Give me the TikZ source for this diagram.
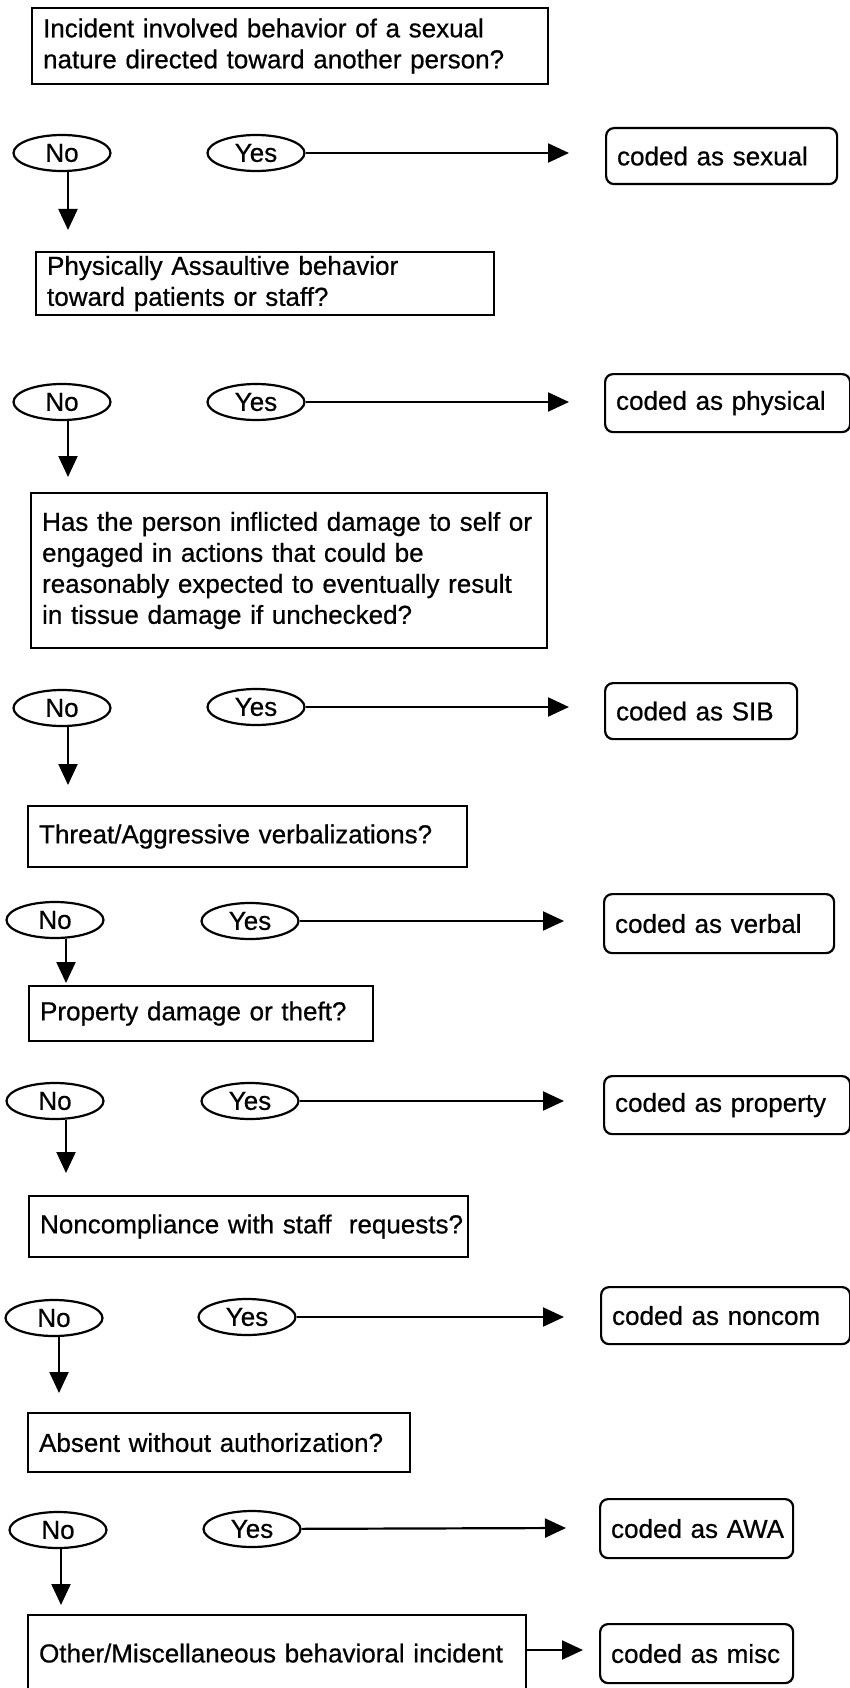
\documentclass[tikz,border=0pt]{standalone}
\usepackage{fontspec}
\setmainfont{Liberation Sans}[FakeBold=0.6]
\usetikzlibrary{shapes.geometric,arrows.meta}
\newcommand{\bodyfs}{\fontsize{26pt}{31pt}\selectfont}
\tikzset{
  qbox/.style={draw, line width=2.2pt, anchor=north west, align=left,
    inner xsep=11pt, inner ysep=0pt, font=\bodyfs},
  rbox/.style={draw, rounded corners=8pt, line width=2.2pt, anchor=north west,
    align=left, inner xsep=11pt, inner ysep=0pt, font=\bodyfs},
  yn/.style={draw, ellipse, line width=2.2pt, minimum width=97pt,
    minimum height=36pt, inner sep=0pt, font=\bodyfs},
  arr/.style={line width=2.2pt, -{Triangle[length=21pt,width=19pt]}}
}
\begin{document}
\begin{tikzpicture}[x={(1pt,0)}, y={(0,-1pt)}]
\useasboundingbox (0,0) rectangle (850,1688);

% ---------- Row 1
\node[qbox, minimum width=516pt, minimum height=76pt, text width=494pt] (q1) at (31,7)
  {\mbox{Incident involved behavior of a sexual}\\\mbox{nature directed toward another person?}};
\node[yn] (no1) at (62,153) {No};
\node[yn] (yes1) at (256,153) {Yes};
\node[rbox, minimum width=231pt, minimum height=56pt, text width=209pt] (r1) at (605,127) {\mbox{coded as sexual}};
\coordinate (y1) at (569,153);
\draw[arr] (yes1) -- (y1);
\coordinate (d1) at (68,230);
\draw[arr] (no1.south -| d1) -- (d1);

% ---------- Row 2
\node[qbox, minimum width=458pt, minimum height=63pt, text width=436pt] (q2) at (35,251)
  {\mbox{Physically Assaultive behavior}\\\mbox{toward patients or staff?}};
\node[yn] (no2) at (62,402) {No};
\node[yn] (yes2) at (256,402) {Yes};
\node[rbox, minimum width=245pt, minimum height=58pt, text width=223pt] (r2) at (604,373) {\mbox{coded as physical}};
\coordinate (y2) at (569,402);
\draw[arr] (yes2) -- (y2);
\coordinate (d2) at (68,477);
\draw[arr] (no2.south -| d2) -- (d2);

% ---------- Row 3
\node[qbox, minimum width=516pt, minimum height=155pt, text width=494pt] (q3) at (30,492)
  {\mbox{Has the person inflicted damage to self or}\\\mbox{engaged in actions that could be}\\\mbox{reasonably expected to eventually result}\\\mbox{in tissue damage if unchecked?}};
\node[yn] (no3) at (62,708) {No};
\node[yn] (yes3) at (256,707) {Yes};
\node[rbox, minimum width=192pt, minimum height=56pt, text width=170pt] (r3) at (604,682) {\mbox{coded as SIB}};
\coordinate (y3) at (569,707);
\draw[arr] (yes3) -- (y3);
\coordinate (d3) at (68,785);
\draw[arr] (no3.south -| d3) -- (d3);

% ---------- Row 4
\node[qbox, minimum width=439pt, minimum height=61pt, text width=417pt] (q4) at (27,805)
  {\mbox{Threat/Aggressive verbalizations?}};
\node[yn] (no4) at (55,920) {No};
\node[yn] (yes4) at (250,921) {Yes};
\node[rbox, minimum width=230pt, minimum height=59pt, text width=208pt] (r4) at (603,893) {\mbox{coded as verbal}};
\coordinate (y4) at (564,921);
\draw[arr] (yes4) -- (y4);
\coordinate (d4) at (66,983);
\draw[arr] (no4.south -| d4) -- (d4);

% ---------- Row 5
\node[qbox, minimum width=344pt, minimum height=55pt, text width=322pt] (q5) at (28,985)
  {\mbox{Property damage or theft?}};
\node[yn] (no5) at (55,1101) {No};
\node[yn] (yes5) at (250,1101) {Yes};
\node[rbox, minimum width=246pt, minimum height=58pt, text width=224pt] (r5) at (603,1075) {\mbox{coded as property}};
\coordinate (y5) at (564,1101);
\draw[arr] (yes5) -- (y5);
\coordinate (d5) at (66,1173);
\draw[arr] (no5.south -| d5) -- (d5);

% ---------- Row 6
\node[qbox, minimum width=439pt, minimum height=61pt, text width=417pt] (q6) at (28,1195)
  {\mbox{Noncompliance with staff~ requests?}};
\node[yn] (no6) at (54,1318) {No};
\node[yn] (yes6) at (247,1317) {Yes};
\node[rbox, minimum width=249pt, minimum height=57pt, text width=227pt] (r6) at (600,1286) {\mbox{coded as noncom}};
\coordinate (y6) at (564,1317);
\draw[arr] (yes6) -- (y6);
\coordinate (d6) at (59,1393);
\draw[arr] (no6.south -| d6) -- (d6);

% ---------- Row 7
\node[qbox, minimum width=382pt, minimum height=59pt, text width=360pt] (q7) at (27,1412)
  {\mbox{Absent without authorization?}};
\node[yn] (no7) at (58,1530) {No};
\node[yn] (yes7) at (252,1529) {Yes};
\node[rbox, minimum width=193pt, minimum height=59pt, text width=171pt] (r7) at (599,1498) {\mbox{coded as AWA}};
\coordinate (y7) at (566,1528);
\draw[arr] (yes7) -- (y7);
\coordinate (d7) at (61,1605);
\draw[arr] (no7.south -| d7) -- (d7);

% ---------- Row 8
\node[qbox, minimum width=498pt, minimum height=76pt, text width=476pt] (q8) at (27,1614)
  {\mbox{Other/Miscellaneous behavioral incident}};
\node[rbox, minimum width=193pt, minimum height=59pt, text width=171pt] (r8) at (599,1623) {\mbox{coded as misc}};
\coordinate (y8) at (583,1650);
\draw[arr] (q8.east |- y8) -- (y8);
\end{tikzpicture}
\end{document}
